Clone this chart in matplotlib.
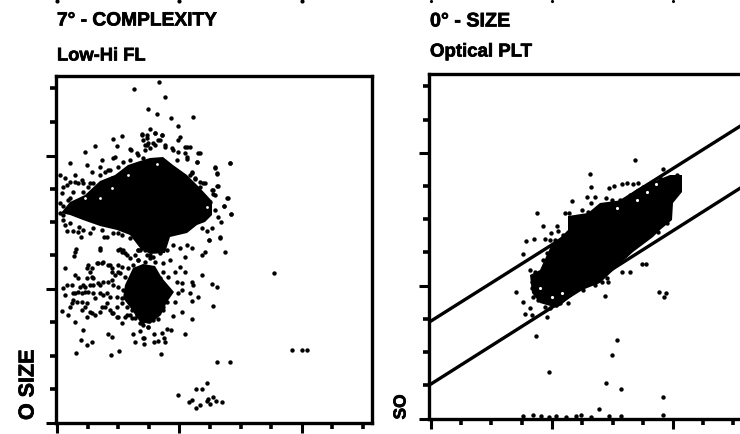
#flow cytometry scatter panels, complexity and size against 0 degree size
import matplotlib
matplotlib.use('Agg')
import matplotlib.pyplot as plt
import matplotlib.patheffects as pe

plt.rcParams['font.family'] = ['Liberation Sans', 'DejaVu Sans']

# left panel, dense regions as outlines
left_blob_x = [4, 13, 28, 43, 58, 71, 83, 93, 106, 116, 130, 143, 155, 155, 148, 140, 130, 113, 108, 93, 83, 73, 60, 43, 26, 13]
left_blob_y = [210, 221, 228, 242, 248, 258, 262, 265, 266, 258, 248, 235, 222, 208, 201, 198, 190, 186, 170, 169, 175, 188, 193, 197, 203, 208]
left_core_x = [68, 76, 86, 98, 105, 117, 110, 104, 93, 83, 75, 66]
left_core_y = [138, 155, 159, 157, 145, 131, 121, 108, 99, 101, 113, 125]

# left panel, single events
left_x = [102, 77, 108, 91, 100, 114, 136, 121, 93, 85, 98, 105, 123, 65, 56, 86, 103, 60, 38, 91, 121, 28, 74, 88, 108, 130, 143, 140, 116, 58, 45, 13, 30, 120, 130, 173, 158, 160, 135, 143, 148, 138, 161, 156, 158, 171, 167, 174, 153,
          73, 80, 90, 101, 35, 43, 56, 66, 8, 18, 10, 18, 25, 33, 43, 51, 5, 16, 13, 26, 40, 55, 6, 11, 8, 10, 16, 22, 24, 33, 45, 47, 61, 73, 83, 93, 85, 63, 43, 19,
          43, 18, 17, 8, 6, 10, 15, 8, 18, 21, 31, 33, 36, 26, 33, 18, 25, 31, 13, 16, 25, 30, 38, 46, 53, 43, 51, 40, 46, 53, 55, 61, 65, 70, 61, 81, 81, 93, 5, 11, 18, 25, 30, 35, 43, 48, 53, 56, 61, 65, 70, 26, 51, 55, 76, 83, 86, 97, 24, 35, 30, 78, 87, 97, 19, 54, 62,
          152, 163, 145, 148, 168, 128, 123, 128, 118, 145, 120, 125, 135, 136, 155, 160, 125, 133, 121, 141, 135, 118, 110, 103, 156, 125, 116, 135, 106, 101, 91, 110, 114, 105, 128, 107, 108, 101, 87, 104, 160, 173,
          217, 235, 245, 250, 150, 145, 139, 121, 135, 132, 143, 139, 151, 156, 159, 153, 165, 150]
left_y = [341, 334, 326, 314, 309, 305, 306, 297, 294, 289, 290, 288, 286, 287, 284, 283, 283, 277, 277, 280, 283, 271, 273, 273, 276, 276, 270, 261, 273, 266, 263, 260, 258, 263, 266, 260, 255, 249, 251, 241, 240, 245, 237, 233, 228, 225, 217, 209, 221,
          274, 270, 278, 283, 251, 256, 265, 261, 245, 248, 238, 241, 243, 240, 248, 253, 230, 231, 225, 231, 236, 245, 217, 223, 198, 192, 192, 196, 186, 190, 193, 186, 190, 185, 187, 176, 175, 174, 175, 174,
          173, 171, 167, 155, 135, 138, 138, 128, 148, 145, 158, 151, 145, 138, 138, 130, 130, 131, 116, 123, 121, 120, 125, 128, 126, 138, 141, 160, 161, 158, 151, 151, 171, 168, 158, 173, 163, 168, 112, 108, 101, 113, 106, 110, 111, 116, 113, 110, 106, 100, 108, 93, 89, 86, 89, 92, 85, 89, 83, 81, 78, 81, 79, 81, 70, 68, 72,
          183, 185, 168, 171, 171, 166, 156, 151, 151, 148, 141, 140, 141, 138, 139, 136, 133, 130, 130, 126, 122, 121, 121, 121, 117, 111, 107, 104, 113, 104, 96, 94, 93, 90, 89, 85, 81, 82, 85, 69, 61, 61,
          150, 73, 73, 73, 40, 34, 34, 28, 23, 21, 18, 15, 24, 26, 22, 19, 21, 22]

# more events in the crowded parts of the left panel
left_more_x = [30, 35, 35, 30, 23, 28, 36, 41, 45, 51, 55, 58, 63, 68, 61, 66, 73, 41, 46, 55, 56, 61, 66, 43, 50, 60, 65, 70, 73, 16, 21, 28, 36, 15, 20, 28, 33, 38, 45, 50, 55, 60, 68, 73, 78, 85, 91, 65, 70, 75, 80, 60, 88, 93, 98, 78, 81, 76, 71, 65, 68, 73,
               83, 90, 96, 103, 110, 116, 123, 130, 135, 106, 113, 81, 88, 106, 111, 103, 108, 113, 105, 100, 106, 101, 93, 96, 86, 80, 75, 83, 86,
               3, 13, 6, 21, 26, 31, 36, 48, 53, 61, 73, 81, 86, 93, 98, 90, 3, 3, 6, 6, 13, 21, 26, 36, 50, 56, 65,
               85, 90, 98, 105, 88, 96, 108, 115, 121, 128, 133, 128, 141, 130, 140, 158, 160, 173, 135, 138, 146, 143, 155, 156, 160, 170, 167, 174, 158, 161, 164, 155, 150, 145, 163, 152, 133]
left_more_y = [155, 155, 146, 145, 136, 136, 138, 160, 160, 158, 155, 148, 150, 170, 173, 173, 165, 140, 141, 143, 138, 136, 133, 130, 130, 126, 125, 128, 121, 130, 131, 131, 130, 120, 121, 116, 111, 108, 116, 120, 110, 106, 106, 108, 105, 100, 96, 120, 116, 113, 111, 116, 173, 165, 161, 168, 173, 158, 155, 156, 146, 141,
               173, 168, 166, 170, 173, 178, 175, 178, 175, 160, 163, 163, 161, 151, 146, 145, 130, 131, 121, 125, 116, 113, 110, 103, 103, 108, 105, 100, 98,
               248, 241, 236, 240, 240, 236, 240, 251, 253, 256, 263, 268, 265, 275, 278, 288, 220, 210, 208, 203, 200, 191, 193, 195, 186, 190, 188,
               288, 285, 290, 288, 278, 280, 278, 275, 271, 276, 276, 270, 270, 264, 261, 256, 250, 260, 250, 244, 240, 236, 233, 229, 237, 225, 217, 209, 213, 206, 201, 195, 192, 195, 186, 183, 248]

# right panel, dense region outline
right_blob_x = [251, 251, 242, 241, 229, 222, 202, 189, 169, 146, 126, 109, 101, 99, 109, 119, 137, 137, 157, 169, 192, 206, 229, 239]
right_blob_y = [244, 227, 216, 199, 189, 182, 167, 155, 136, 127, 111, 116, 126, 144, 149, 171, 189, 203, 206, 216, 219, 230, 240, 244]

# right panel, single events
right_x = [159, 160, 178, 183, 191, 196, 202, 207, 156, 164, 160, 141, 175, 181, 172, 134, 138, 106, 139, 112, 126, 127, 120, 95, 103, 114, 119, 122, 92, 215, 211, 191, 199, 177, 171, 174, 228, 235, 233, 137, 92, 99, 204, 232,
           85, 94, 101, 116, 105, 186, 181, 118, 175, 190, 232, 168, 102, 92, 110, 118, 125, 135, 145, 150, 160, 178, 190, 232,
           151, 157, 166, 139, 144, 132, 124, 121, 116, 112, 99, 104, 109, 101, 101, 102, 107, 114, 119, 129, 189, 199, 212, 229, 246, 176, 164, 152, 227, 236]
right_y = [245, 232, 231, 233, 235, 236, 235, 236, 222, 222, 216, 218, 221, 219, 214, 206, 206, 206, 197, 193, 193, 188, 186, 178, 180, 180, 179, 174, 165, 155, 155, 147, 147, 137, 137, 123, 127, 126, 122, 116, 117, 111, 259, 250,
           127, 105, 104, 102, 83, 79, 64, 47, 36, 30, 22, 10, 4, 3, 3, 2, 3, 2, 3, 4, 2, 3, 3, 4,
           209, 207, 209, 201, 197, 184, 179, 172, 166, 159, 149, 147, 144, 137, 131, 122, 119, 112, 111, 116, 219, 224, 232, 241, 244, 141, 134, 129, 187, 196]

# small empty spots inside the dense regions
left_hole_x = [28, 43, 71, 55, 100, 150]
left_hole_y = [225, 225, 248, 235, 259, 216]
right_hole_x = [206, 216, 186, 121, 131, 109, 225]
right_hole_y = [219, 227, 211, 122, 126, 131, 235]

# reference band on the right panel
upper_line_x = [0, 311]
upper_line_y = [98, 294]
lower_line_x = [0, 311]
lower_line_y = [35, 232]

# ticks
left_xticks = [0, 31, 61, 92, 122, 153, 184, 214, 245, 275, 306]
left_xmajor = [0, 122, 245]
left_yticks = [0, 34, 67, 101, 134, 168, 201, 234, 267, 301, 335]
left_ymajor = [0, 134, 267]
right_xticks = [0, 30, 60, 91, 121, 151, 182, 212, 242, 272, 302]
right_xmajor = [0, 121, 242]
right_yticks = [0, 34, 67, 100, 133, 167, 200, 233, 266, 299, 333]
right_ymajor = [0, 133, 266]

W, H = 740, 434
fig = plt.figure(figsize=(W / 100, H / 100), dpi=100)


def panel(left, right, top, bottom, xlim, ylim, xticks, xmajor, yticks, ymajor):
    ax = fig.add_axes([left / W, 1 - bottom / H, (right - left) / W, (bottom - top) / H])
    ax.set_xlim(xlim)
    ax.set_ylim(ylim)
    ax.set_xticks(xmajor)
    ax.set_xticks(xticks, minor=True)
    ax.set_yticks(ymajor)
    ax.set_yticks(yticks, minor=True)
    ax.set_xticklabels([])
    ax.set_yticklabels([])
    ax.tick_params(which='major', length=7.5, width=2.2)
    ax.tick_params(which='minor', length=4, width=2.6)
    for s in ax.spines.values():
        s.set_linewidth(2.4)
    return ax


def label(x, y, txt, size=14, **kw):
    fig.text(x / W, 1 - y / H, txt, fontsize=size, fontweight='bold', va='center',
             path_effects=[pe.withStroke(linewidth=0.5, foreground='black')], **kw)


ax1 = panel(56, 372, 76, 423, (-1, 315), (0, 347), left_xticks, left_xmajor, left_yticks, left_ymajor)
ax1.fill(left_blob_x, left_blob_y, color='black', lw=0)
ax1.fill(left_core_x, left_core_y, color='black', lw=0)
ax1.scatter(left_x, left_y, s=10, color='black', lw=0)
ax1.scatter(left_more_x, left_more_y, s=10, color='black', lw=0)
ax1.scatter(left_hole_x, left_hole_y, s=4, color='white', lw=0)

ax2 = panel(429, 742, 74, 419, (-2, 311), (0, 345), right_xticks, right_xmajor, right_yticks, right_ymajor)
ax2.fill(right_blob_x, right_blob_y, color='black', lw=0)
ax2.scatter(right_x, right_y, s=10, color='black', lw=0, clip_on=False)
ax2.scatter(right_hole_x, right_hole_y, s=5, color='white', lw=0)
ax2.plot(upper_line_x, upper_line_y, color='black', lw=2.4)
ax2.plot(lower_line_x, lower_line_y, color='black', lw=2.4)

# tick ends of the panel above, cut by the top edge
ax1.scatter(left_xmajor, [422, 422, 422], s=9, color='black', lw=0, clip_on=False)
ax2.scatter(right_xmajor, [418, 418, 418], s=5, color='black', lw=0, clip_on=False)

label(57, 21, '7° - COMPLEXITY', size=13.8)
label(57, 56, 'Low-Hi FL', size=13.2)
label(430, 21, '0° - SIZE', size=14.2)
label(430, 52, 'Optical PLT', size=13.4)
label(28, 385, 'O SIZE', size=15.5, rotation=90, ha='center')
label(401, 407, 'SO', size=12.5, rotation=90, ha='center')

plt.savefig('out.png', dpi=100)
plt.close(fig)
